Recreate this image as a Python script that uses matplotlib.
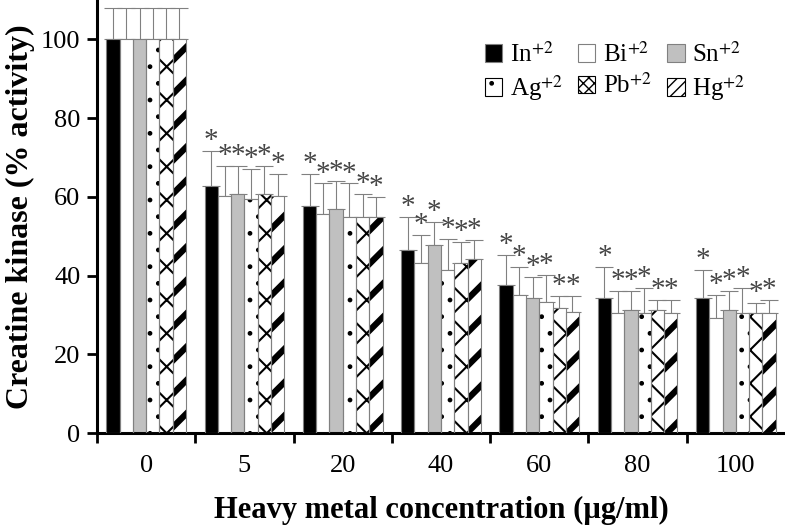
import matplotlib
matplotlib.use('Agg')
import matplotlib.pyplot as plt
from matplotlib.patches import Patch
import numpy as np

plt.rcParams['font.family'] = ['Liberation Serif', 'DejaVu Serif']
plt.rcParams['mathtext.fontset'] = 'stix'

concentrations = ['0', '5', '20', '40', '60', '80', '100']
metals = ['In', 'Bi', 'Sn', 'Ag', 'Pb', 'Hg']

# mean activity (%) per metal, one value per concentration
means = {
    'In': [100, 62.7, 57.6, 46.6, 37.7, 34.3, 34.3],
    'Bi': [100, 60.1, 55.6, 43.3, 35.0, 30.6, 29.2],
    'Sn': [100, 60.8, 56.9, 47.8, 34.3, 31.2, 31.2],
    'Ag': [100, 59.5, 54.9, 41.3, 33.2, 30.6, 30.6],
    'Pb': [100, 60.8, 54.9, 43.3, 31.7, 31.2, 30.6],
    'Hg': [100, 60.1, 54.9, 44.2, 30.7, 30.6, 30.6],
}
# top of the error bar
upper = {
    'In': [108, 71.6, 65.9, 54.9, 45.3, 42.2, 41.5],
    'Bi': [108, 67.8, 63.4, 50.4, 42.1, 36.2, 35.0],
    'Sn': [108, 67.8, 63.9, 53.6, 39.6, 36.2, 36.2],
    'Ag': [108, 67.1, 63.4, 49.3, 40.1, 36.8, 36.8],
    'Pb': [108, 67.8, 60.7, 48.5, 34.9, 33.7, 33.0],
    'Hg': [108, 65.9, 60.0, 49.1, 34.9, 33.7, 33.7],
}
# significance marks (none for the control)
significant = [False, True, True, True, True, True, True]

styles = {
    'In': dict(fc='black', hatch=None, lhatch=None, hlw=1.0),
    'Bi': dict(fc='white', hatch=None, lhatch=None, hlw=1.0),
    'Sn': dict(fc='#c0c0c0', hatch=None, lhatch=None, hlw=1.0),
    'Ag': dict(fc='white', hatch='.', lhatch='.', hlw=1.0),
    'Pb': dict(fc='white', hatch='x', lhatch='xxx', hlw=1.5),
    'Hg': dict(fc='white', hatch='/', lhatch='///', hlw=4.5),
}

figure = plt.figure(figsize=(7.85, 5.3), dpi=100)
axes = figure.add_axes([97 / 785, 1 - 433 / 530, 688 / 785, 433 / 530])

x = np.arange(len(concentrations))
width = 0.135
edge = '#808080'

for j, m in enumerate(metals):
    st = styles[m]
    pos = x + (j - 2.5) * width
    err = np.array(upper[m]) - np.array(means[m])
    with plt.rc_context({'hatch.linewidth': st['hlw']}):
        bars = axes.bar(pos, means[m], width, color=st['fc'], hatch=st['hatch'],
                        edgecolor='black', linewidth=0, zorder=2)
        for b in bars:
            if hasattr(b, 'set_hatch_linewidth'):
                b.set_hatch_linewidth(st['hlw'])
    axes.bar(pos, means[m], width, fill=False, edgecolor=edge, linewidth=0.8, zorder=3)
    axes.errorbar(pos, means[m], yerr=[np.zeros_like(err), err], fmt='none',
                  ecolor=edge, elinewidth=0.8, capsize=6.2, capthick=0.8, zorder=1)
    for i in range(len(concentrations)):
        if significant[i]:
            axes.text(pos[i], upper[m][i] - 0.8, '*', ha='center', va='bottom',
                      fontsize=21, color='#444444')

axes.set_xlim(-0.5, len(concentrations) - 0.5)
axes.set_ylim(0, 110)
axes.set_yticks([0, 20, 40, 60, 80, 100])
axes.set_xticks(np.arange(len(concentrations)) - 0.5)
axes.set_xticklabels([])
axes.set_xticks(x, minor=True)
axes.set_xticklabels(concentrations, minor=True)
axes.tick_params(axis='x', which='major', direction='out', length=7, width=2)
axes.tick_params(axis='x', which='minor', length=0, pad=16, labelsize=19)
axes.tick_params(axis='y', direction='out', length=7, width=2, pad=5, labelsize=19)

for side in ['top', 'right']:
    axes.spines[side].set_visible(False)
for side in ['left', 'bottom']:
    axes.spines[side].set_linewidth(2.2)

axes.set_ylabel('Creatine kinase (% activity)', fontsize=23, fontweight='bold', labelpad=4)
figure.text(441 / 785, 1 - 510 / 530, 'Heavy metal concentration (\u00b5g/ml)',
            ha='center', va='center', fontsize=22, fontweight='bold')

handles = []
for m in ['In', 'Ag', 'Bi', 'Pb', 'Sn', 'Hg']:
    st = styles[m]
    ec = 'black' if st['lhatch'] else edge
    handles.append(Patch(facecolor=st['fc'], edgecolor=ec, hatch=st['lhatch'],
                         linewidth=0.8, label=m + '$^{+2}$'))
axes.legend(handles=handles, ncol=3, loc='upper right', bbox_to_anchor=(0.975, 0.955),
            frameon=False, fontsize=18, handlelength=0.7, handleheight=0.7,
            handletextpad=0.3, columnspacing=0.6, labelspacing=0.25)

figure.savefig('out.png', dpi=100)
